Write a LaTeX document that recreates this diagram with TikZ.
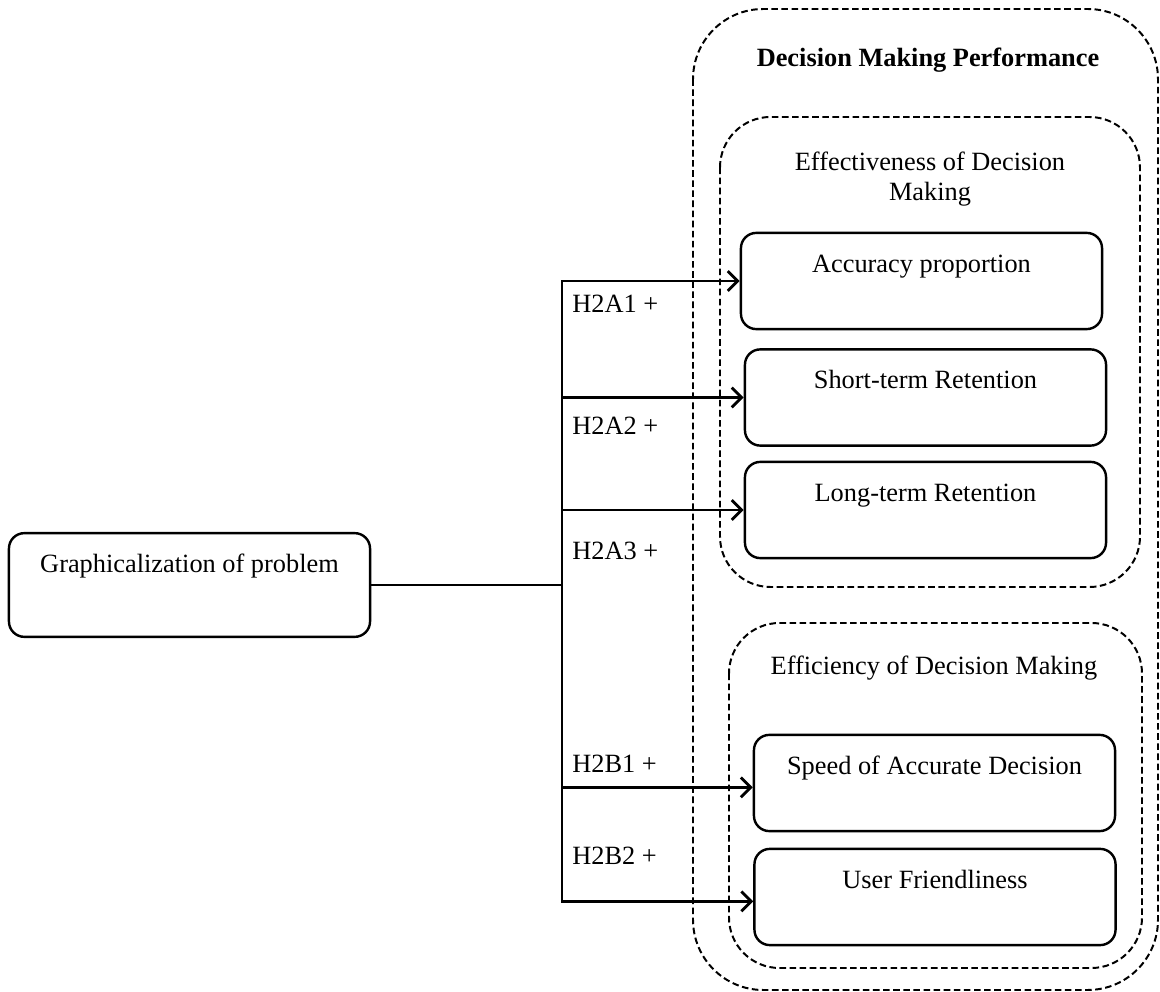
\documentclass[tikz,border=0pt]{standalone}
\usepackage{fontspec}
\setmainfont{Liberation Serif}
\usepackage{tikz}
\usetikzlibrary{arrows.meta}
\tikzset{box/.style = {draw, rounded corners = 7pt, line width = 1.1pt, minimum width = 5.78cm, minimum height = 1.54cm, text height = 8pt, text depth = 16pt, inner sep = 0}}
\tikzset{zone/.style = {draw, line width = 0.9pt, dash pattern = on 3pt off 1.6pt}}
\tikzset{conn/.style = {line width = 1.3pt, >={Straight Barb[length = 4.5pt, width = 9pt]}}}
\tikzset{hyp/.style = {anchor = base west, inner sep = 0}}

\begin{document}
\begin{tikzpicture}[x = 0.016cm, y = -0.016cm, font = \fontsize{12}{13.6}\selectfont]
      \useasboundingbox (0, 0) rectangle (1160, 992);

      \draw [zone, rounded corners = 32pt] (693, 9) rectangle (1158, 990);
      \draw [zone, rounded corners = 23pt] (720, 117) rectangle (1140, 587);
      \draw [zone, rounded corners = 23pt] (729, 623) rectangle (1142, 968);

      \node (dmp) [anchor = base] at (928, 67) {\textbf{Decision Making Performance}};
      \node (eff) [anchor = north, align = center, inner sep = 0] at (930, 152) {Effectiveness of Decision\\Making};
      \node (efc) [anchor = base] at (934, 675) {Efficiency of Decision Making};

      \node (gp) [box, minimum height = 1.66cm, text depth = 19pt] at (189.5, 585) {Graphicalization of problem};
      \node (acc) [box] at (921.5, 281) {Accuracy proportion};
      \node (str) [box] at (925.5, 397.5) {Short-term Retention};
      \node (ltr) [box] at (925.5, 510) {Long-term Retention};
      \node (spd) [box] at (934.5, 783) {Speed of Accurate Decision};
      \node (usr) [box] at (935, 897) {User Friendliness};

      \coordinate (hub) at (562, 586);
      \draw [conn] (gp.east) -- (gp.east -| hub);
      \draw [conn, ->] (hub) |- (acc.west);
      \draw [conn, ->] (str.west -| hub) -- (str.west);
      \draw [conn, ->] (ltr.west -| hub) -- (ltr.west);
      \draw [conn, ->] ([yshift = -2pt]spd.west -| hub) -- ([yshift = -2pt]spd.west);
      \draw [conn, ->] (hub) |- ([yshift = -2pt]usr.west);

      \node (a1) [hyp] at (572, 313) {H2A1 +};
      \node (a2) [hyp] at (572, 435) {H2A2 +};
      \node (a3) [hyp] at (572, 560) {H2A3 +};
      \node (b1) [hyp] at (572, 773) {H2B1 +};
      \node (b2) [hyp] at (572, 865) {H2B2 +};
    \end{tikzpicture}
\end{document}
